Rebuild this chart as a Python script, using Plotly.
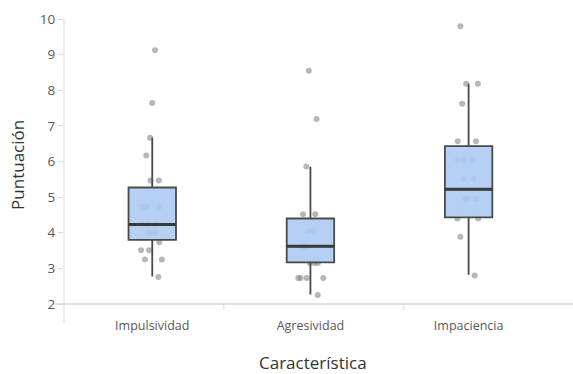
import plotly.graph_objects as go

categories = ["Impulsividad", "Agresividad", "Impaciencia"]

impulsividad = [9.12, 7.64, 6.67, 6.17, 5.47, 5.47, 4.73, 4.73, 4.73, 4.23, 4.23, 4.23,
                3.99, 3.99, 3.99, 3.73, 3.51, 3.51, 3.25, 3.25, 2.76]
agresividad = [8.55, 7.19, 5.86, 4.52, 4.52, 4.05, 4.05, 3.62, 3.62, 3.15, 3.15, 3.15,
               2.73, 2.73, 2.73, 2.73, 2.25]
impaciencia = [9.80, 8.18, 8.18, 7.62, 6.57, 6.57, 6.04, 6.04, 6.04, 5.50, 5.50,
               4.96, 4.96, 4.96, 4.40, 4.40, 3.89, 2.80]

q1 = [3.80, 3.17, 4.43]
median = [4.23, 3.62, 5.22]
q3 = [5.27, 4.40, 6.43]
lowerfence = [2.77, 2.27, 2.82]
upperfence = [6.67, 5.85, 8.18]

y_ticks = [2, 3, 4, 5, 6, 7, 8, 9, 10]

BOX_W = 0.30
FONT = "Open Sans, Noto Sans, sans-serif"

fig = go.Figure()

samples = [impulsividad, agresividad, impaciencia]
for cat, vals in zip(categories, samples):
    fig.add_trace(go.Box(
        x=[cat] * len(vals), y=vals,
        boxpoints="all", jitter=0.7, pointpos=0,
        width=BOX_W,
        fillcolor="rgba(0,0,0,0)", line=dict(width=0, color="rgba(0,0,0,0)"),
        marker=dict(color="rgba(135,135,135,0.6)", size=6),
        showlegend=False, hoverinfo="y",
    ))

fig.add_trace(go.Box(
    x=categories, q1=q1, median=median, q3=q3,
    lowerfence=lowerfence, upperfence=upperfence,
    width=BOX_W, whiskerwidth=0,
    fillcolor="rgba(174,203,242,0.9)",
    line=dict(color="#4a4a4a", width=1.8),
    boxpoints=False, showlegend=False,
))

shapes = []
# thicker median lines
for i, m in enumerate(median):
    shapes.append(dict(type="line", xref="x", yref="y",
                       x0=i - BOX_W / 2, x1=i + BOX_W / 2, y0=m, y1=m,
                       line=dict(color="#3a3a3a", width=3)))
# axis lines
shapes.append(dict(type="line", xref="paper", yref="paper", x0=0, x1=0, y0=1, y1=-0.063,
                   line=dict(color="#d9d9d9", width=1)))
shapes.append(dict(type="line", xref="paper", yref="paper", x0=-0.018, x1=1, y0=0, y1=0,
                   line=dict(color="#d9d9d9", width=1.5)))
# category separators
for sx in [0.453, 1.59]:
    shapes.append(dict(type="line", xref="x", yref="paper", x0=sx, x1=sx, y0=0, y1=-0.02,
                       line=dict(color="#d9d9d9", width=1)))

annotations = [
    dict(text="Característica", xref="paper", yref="paper", x=0.489, y=-0.207,
         xanchor="center", yanchor="middle", showarrow=False,
         font=dict(size=17, color="#333333", family=FONT)),
    dict(text="Puntuación", xref="paper", yref="paper", x=-0.0904, y=0.488,
         xanchor="center", yanchor="middle", showarrow=False, textangle=-90,
         font=dict(size=17, color="#333333", family=FONT)),
]

fig.update_layout(
    width=573, height=374,
    margin=dict(l=64, r=0, t=19, b=70, autoexpand=False),
    paper_bgcolor="white", plot_bgcolor="white",
    boxmode="overlay",
    font=dict(family=FONT, color="#595959"),
    shapes=shapes,
    annotations=annotations,
    xaxis=dict(
        type="category", range=[-0.558, 2.66], automargin=False,
        showgrid=False, zeroline=False, showline=False,
        ticks="outside", ticklen=10, tickcolor="rgba(0,0,0,0)",
        tickfont=dict(size=12.5, color="#595959"),
    ),
    yaxis=dict(
        range=[2, 10], tickvals=y_ticks, automargin=False,
        showgrid=False, zeroline=False, showline=False,
        ticks="outside", ticklen=5, tickcolor="#d9d9d9",
        tickfont=dict(size=13.5, color="#595959"),
    ),
)

fig.write_html("out.html", config={"displayModeBar": False},
               post_script="document.body.style.margin='0';document.body.style.overflow='hidden';")
